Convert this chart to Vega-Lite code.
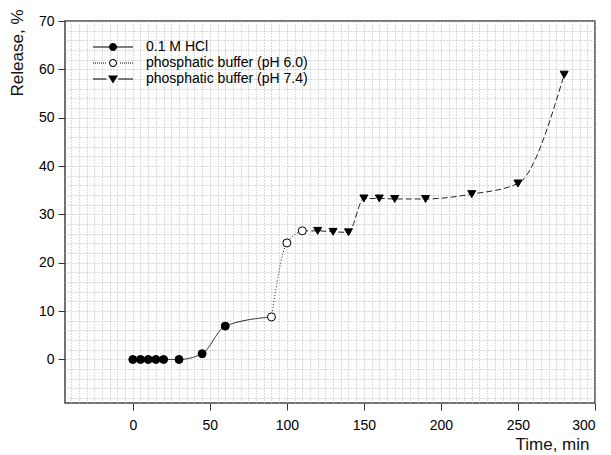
{
  "$schema": "https://vega.github.io/schema/vega-lite/v6.json",
  "width": 530,
  "height": 382,
  "autosize": "none",
  "padding": {"left": 65, "top": 21, "right": 16, "bottom": 52},
  "background": "white",
  "config": {
    "view": {"stroke": "#444444", "strokeWidth": 1.5},
    "font": "Liberation Sans",
    "axis": {
      "labelFont": "Liberation Sans",
      "titleFont": "Liberation Sans",
      "labelColor": "#000000",
      "titleColor": "#111111",
      "titleFontWeight": "normal",
      "domain": false,
      "grid": true,
      "gridDash": [1, 2],
      "gridColor": "#b4b4b4",
      "gridWidth": 1,
      "tickColor": "#333333",
      "tickSize": 7,
      "labelOverlap": false,
      "labelFontSize": 14,
      "titleFontSize": 17
    }
  },
  "datasets": {
    "points": [
      {"time": 0, "release": 0, "medium": "0.1 M HCl"},
      {"time": 5, "release": 0, "medium": "0.1 M HCl"},
      {"time": 10, "release": 0, "medium": "0.1 M HCl"},
      {"time": 15, "release": 0, "medium": "0.1 M HCl"},
      {"time": 20, "release": 0, "medium": "0.1 M HCl"},
      {"time": 30, "release": 0, "medium": "0.1 M HCl"},
      {"time": 45, "release": 1.2, "medium": "0.1 M HCl"},
      {"time": 60, "release": 6.9, "medium": "0.1 M HCl"},
      {"time": 90, "release": 8.8, "medium": "phosphatic buffer (pH 6.0)"},
      {"time": 100, "release": 24.1, "medium": "phosphatic buffer (pH 6.0)"},
      {"time": 110, "release": 26.6, "medium": "phosphatic buffer (pH 6.0)"},
      {"time": 120, "release": 26.6, "medium": "phosphatic buffer (pH 7.4)"},
      {"time": 130, "release": 26.4, "medium": "phosphatic buffer (pH 7.4)"},
      {"time": 140, "release": 26.3, "medium": "phosphatic buffer (pH 7.4)"},
      {"time": 150, "release": 33.3, "medium": "phosphatic buffer (pH 7.4)"},
      {"time": 160, "release": 33.3, "medium": "phosphatic buffer (pH 7.4)"},
      {"time": 170, "release": 33.2, "medium": "phosphatic buffer (pH 7.4)"},
      {"time": 190, "release": 33.2, "medium": "phosphatic buffer (pH 7.4)"},
      {"time": 220, "release": 34.2, "medium": "phosphatic buffer (pH 7.4)"},
      {"time": 250, "release": 36.4, "medium": "phosphatic buffer (pH 7.4)"},
      {"time": 280, "release": 58.9, "medium": "phosphatic buffer (pH 7.4)"}
    ],
    "lines": [
      {"time": 0, "release": 0, "curve": "HCl"},
      {"time": 5, "release": 0, "curve": "HCl"},
      {"time": 10, "release": 0, "curve": "HCl"},
      {"time": 15, "release": 0, "curve": "HCl"},
      {"time": 20, "release": 0, "curve": "HCl"},
      {"time": 30, "release": 0, "curve": "HCl"},
      {"time": 45, "release": 1.2, "curve": "HCl"},
      {"time": 60, "release": 6.9, "curve": "HCl"},
      {"time": 90, "release": 8.8, "curve": "HCl"},
      {"time": 90, "release": 8.8, "curve": "pH 6.0"},
      {"time": 100, "release": 24.1, "curve": "pH 6.0"},
      {"time": 110, "release": 26.6, "curve": "pH 6.0"},
      {"time": 110, "release": 26.6, "curve": "pH 7.4"},
      {"time": 120, "release": 26.6, "curve": "pH 7.4"},
      {"time": 130, "release": 26.4, "curve": "pH 7.4"},
      {"time": 140, "release": 26.3, "curve": "pH 7.4"},
      {"time": 150, "release": 33.3, "curve": "pH 7.4"},
      {"time": 160, "release": 33.3, "curve": "pH 7.4"},
      {"time": 170, "release": 33.2, "curve": "pH 7.4"},
      {"time": 190, "release": 33.2, "curve": "pH 7.4"},
      {"time": 220, "release": 34.2, "curve": "pH 7.4"},
      {"time": 250, "release": 36.4, "curve": "pH 7.4"},
      {"time": 280, "release": 58.9, "curve": "pH 7.4"}
    ]
  },
  "encoding": {
    "x": {
      "field": "time",
      "type": "quantitative",
      "scale": {"domain": [-44, 300], "nice": false, "zero": false},
      "axis": {
        "title": "Time, min",
        "values": [-40,-35,-30,-25,-20,-15,-10,-5,0,5,10,15,20,25,30,35,40,45,50,55,60,65,70,75,80,85,90,95,100,105,110,115,120,125,130,135,140,145,150,155,160,165,170,175,180,185,190,195,200,205,210,215,220,225,230,235,240,245,250,255,260,265,270,275,280,285,290,295,300],
        "labelExpr": "datum.value % 50 == 0 ? format(datum.value, 'd') : ''",
        "tickOpacity": {"condition": {"test": "datum.value % 50 == 0", "value": 1}, "value": 0},
        "labelPadding": 8,
        "titleAlign": "right",
        "titleBaseline": "middle",
        "titleFontWeight": "normal",
        "titleX": 524,
        "titleY": 41
      }
    },
    "y": {
      "field": "release",
      "type": "quantitative",
      "scale": {"domain": [-9, 70], "nice": false, "zero": false},
      "axis": {
        "title": "Release, %",
        "values": [-8,-6,-4,-2,0,2,4,6,8,10,12,14,16,18,20,22,24,26,28,30,32,34,36,38,40,42,44,46,48,50,52,54,56,58,60,62,64,66,68,70],
        "labelExpr": "datum.value % 10 == 0 ? format(datum.value, 'd') : ''",
        "tickOpacity": {"condition": {"test": "datum.value % 10 == 0", "value": 1}, "value": 0},
        "labelPadding": 4,
        "titleAngle": -90,
        "titleAlign": "right",
        "titleBaseline": "middle",
        "titleFontWeight": "normal",
        "titleX": -48,
        "titleY": -12
      }
    }
  },
  "layer": [
    {
      "data": {"name": "lines"},
      "mark": {"type": "line", "interpolate": "monotone", "color": "#222222", "strokeWidth": 1},
      "encoding": {
        "detail": {"field": "curve"},
        "strokeDash": {
          "field": "curve",
          "scale": {"domain": ["HCl", "pH 6.0", "pH 7.4"], "range": [[1, 0], [1, 2], [6, 3]]},
          "legend": null
        }
      }
    },
    {
      "data": {"name": "points"},
      "mark": {"type": "point", "size": 64, "stroke": "#000000", "strokeWidth": 1, "opacity": 1, "fillOpacity": 1},
      "encoding": {
        "shape": {
          "field": "medium",
          "scale": {"domain": ["0.1 M HCl", "phosphatic buffer (pH 6.0)", "phosphatic buffer (pH 7.4)"], "range": ["circle", "circle", "triangle-down"]},
          "legend": null
        },
        "fill": {
          "field": "medium",
          "scale": {"domain": ["0.1 M HCl", "phosphatic buffer (pH 6.0)", "phosphatic buffer (pH 7.4)"], "range": ["#000000", "#ffffff", "#000000"]},
          "legend": null
        }
      }
    },
    {
      "data": {"name": "points"},
      "transform": [{"filter": "datum.time < -100"}],
      "mark": {"type": "point", "filled": true, "fill": "#000000", "strokeWidth": 0, "opacity": 1},
      "encoding": {
        "shape": {
          "field": "medium",
          "scale": {
            "domain": ["0.1 M HCl", "phosphatic buffer (pH 6.0)", "phosphatic buffer (pH 7.4)"],
            "range": [
              "M-5,-0.125H5V0.125H-5Z M1,0C1,0.5523 0.5523,1 0,1C-0.5523,1 -1,0.5523 -1,0C-1,-0.5523 -0.5523,-1 0,-1C0.5523,-1 1,-0.5523 1,0Z",
              "M-5,-0.125h0.25v0.25h-0.25Z M-4.5,-0.125h0.25v0.25h-0.25Z M-4,-0.125h0.25v0.25h-0.25Z M-3.5,-0.125h0.25v0.25h-0.25Z M-3,-0.125h0.25v0.25h-0.25Z M-2.5,-0.125h0.25v0.25h-0.25Z M-2,-0.125h0.25v0.25h-0.25Z M1.75,-0.125h0.25v0.25h-0.25Z M2.25,-0.125h0.25v0.25h-0.25Z M2.75,-0.125h0.25v0.25h-0.25Z M3.25,-0.125h0.25v0.25h-0.25Z M3.75,-0.125h0.25v0.25h-0.25Z M4.25,-0.125h0.25v0.25h-0.25Z M4.75,-0.125h0.25v0.25h-0.25Z M1,0C1,0.5523 0.5523,1 0,1C-0.5523,1 -1,0.5523 -1,0C-1,-0.5523 -0.5523,-1 0,-1C0.5523,-1 1,-0.5523 1,0Z M0.75,0C0.75,-0.4142 0.4142,-0.75 0,-0.75C-0.4142,-0.75 -0.75,-0.4142 -0.75,0C-0.75,0.4142 -0.4142,0.75 0,0.75C0.4142,0.75 0.75,0.4142 0.75,0Z",
              "M-5,-0.125H-1.6V0.125H-5Z M1.3,-0.125H5V0.125H1.3Z M-1.25,-0.9H1.25L0,1.1Z"
            ]
          },
          "legend": {
            "orient": "none",
            "legendX": 41,
            "legendY": 19,
            "title": null,
            "padding": 0,
            "symbolOffset": 0,
            "symbolSize": 64,
            "symbolFillColor": "#000000",
            "symbolStrokeWidth": 0,
            "symbolOpacity": 1,
            "labelFont": "Liberation Sans",
            "labelFontSize": 14,
            "labelColor": "#000000",
            "labelOffset": 26,
            "rowPadding": 2,
            "labelLimit": 300
          }
        }
      }
    }
  ],
  "resolve": {"scale": {"shape": "independent"}}
}
